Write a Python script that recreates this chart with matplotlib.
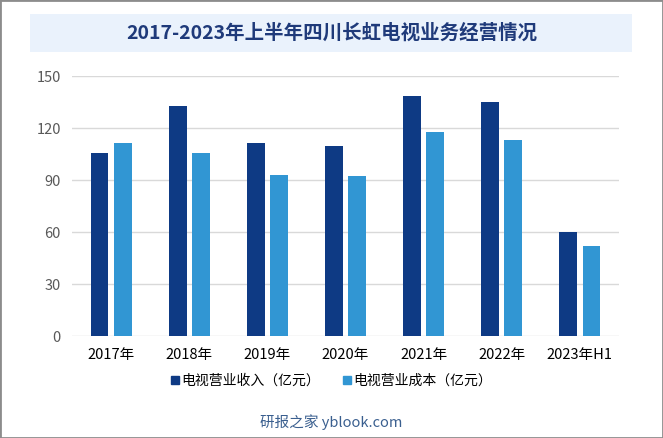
import numpy as np
from matplotlib import pyplot as plt
from matplotlib.patches import Rectangle
from matplotlib.lines import Line2D

plt.rcParams['font.family'] = ['Noto Sans CJK SC', 'DejaVu Sans']

years = ["2017年", "2018年", "2019年", "2020年", "2021年", "2022年", "2023年H1"]
revenue = [105.5, 132.6, 111.3, 109.6, 138.5, 135.0, 60.0]
cost = [111.3, 105.6, 92.8, 92.3, 117.7, 113.0, 52.0]
yticks = [0, 30, 60, 90, 120, 150]

dark = "#0e3a84"
light = "#3196d3"

W, H = 663, 438
fig = plt.figure(figsize=(W / 100, H / 100), dpi=100)
ax = fig.add_axes([72 / W, 1 - 336 / H, (619 - 72) / W, (336 - 76) / H])

x = np.arange(len(years))
bw = 0.23
off = 0.148
ax.bar(x - off, revenue, bw, color=dark, zorder=3)
ax.bar(x + off, cost, bw, color=light, zorder=3)

ax.set_xlim(-0.5, len(years) - 0.5)
ax.set_ylim(0, 150)
ax.set_yticks(yticks)
ax.set_yticklabels([str(v) for v in yticks], color="#595959", fontsize=10.5)
ax.set_xticks(x)
ax.set_xticklabels(years, color="#000000", fontsize=10.5)
ax.tick_params(length=0, pad=8)
ax.tick_params(axis='x', pad=9)
ax.yaxis.grid(True, color="#d9d9d9", linewidth=1, zorder=0)
for s in ax.spines.values():
    s.set_visible(False)

# title box
fig.patches.append(Rectangle((30 / W, 1 - 52 / H), (632 - 30) / W, 38 / H,
                             transform=fig.transFigure, facecolor="#eaf2fc",
                             edgecolor="none", zorder=0))
fig.text(0.5, 1 - 33 / H, "2017-2023年上半年四川长虹电视业务经营情况",
         ha="center", va="center", fontsize=14, fontweight="bold", color="#1f3a7a")

handles = [Line2D([], [], marker="s", linestyle="none", markersize=6, color=dark),
           Line2D([], [], marker="s", linestyle="none", markersize=6, color=light)]
fig.legend(handles, ["电视营业收入（亿元）", "电视营业成本（亿元）"],
           loc="center", bbox_to_anchor=(0.5, 1 - 381 / H), ncol=2, frameon=False,
           fontsize=10, handlelength=0.6, handletextpad=0.2, columnspacing=1.6)

fig.text(0.5, 1 - 422 / H, "研报之家 yblook.com", ha="center", va="center",
         fontsize=10.5, color="#3a5f8f")

fig.patches.append(Rectangle((0, 0), 1, 1, transform=fig.transFigure, facecolor="none",
                             edgecolor="#8c8c8c", linewidth=2, zorder=10))

plt.savefig("out.png", dpi=100)
